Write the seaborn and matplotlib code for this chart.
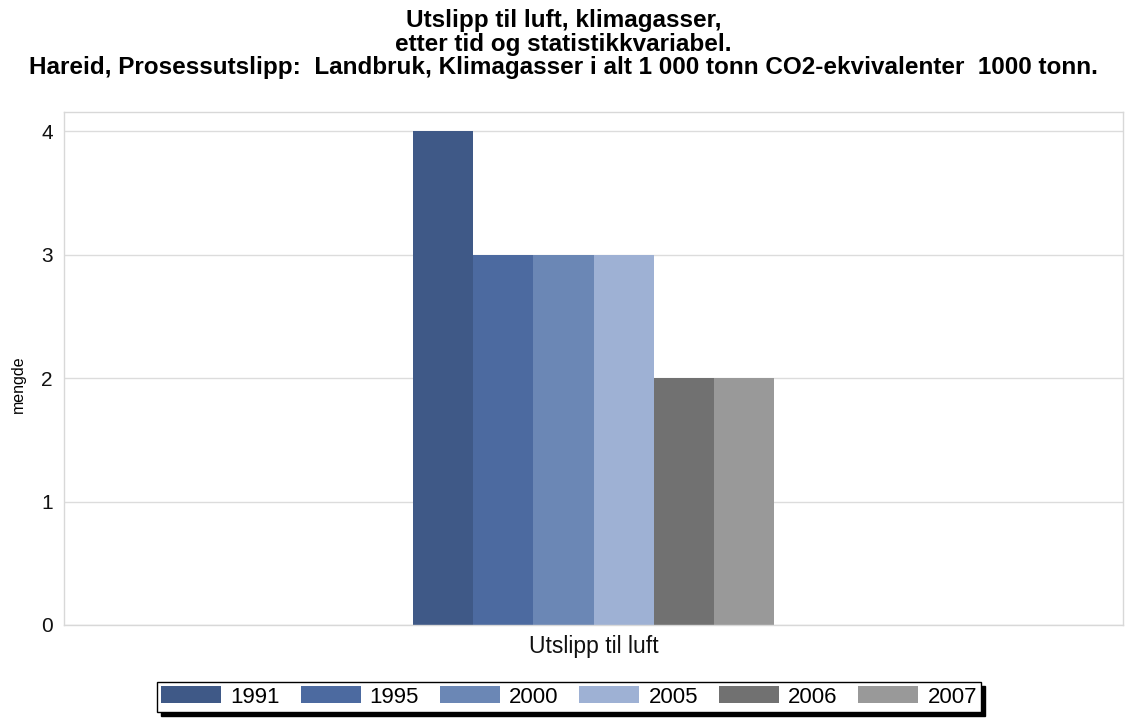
import pandas as pd
import seaborn as sns
import matplotlib.pyplot as plt

# data
kategori = ["Utslipp til luft"]
aar = ["1991", "1995", "2000", "2005", "2006", "2007"]
mengde = [4, 3, 3, 3, 2, 2]
farger = ["#3f5987", "#4c6aa0", "#6b87b5", "#9eb1d4", "#717171", "#999999"]

tittel = ("Utslipp til luft, klimagasser,\n"
          "etter tid og statistikkvariabel.\n"
          "Hareid, Prosessutslipp:  Landbruk, Klimagasser i alt 1 000 tonn "
          "CO2-ekvivalenter  1000 tonn.")

df = pd.DataFrame({
    "kategori": kategori * len(aar),
    "år": aar,
    "mengde": mengde,
})

sns.set_style("whitegrid")
plt.rcParams["font.family"] = ["Liberation Sans", "DejaVu Sans"]
plt.rcParams["text.color"] = "black"

W, H = 1127, 718
fig = plt.figure(figsize=(W / 100, H / 100), dpi=100)
ax = fig.add_axes([64 / W, 1 - 625 / H, (1123 - 64) / W, (625 - 112) / H])

sns.barplot(data=df, x="kategori", y="mengde", hue="år", hue_order=aar,
            palette=farger, width=0.34, saturation=1, linewidth=0, ax=ax)

ax.set_xlim(-0.5, 0.5)
ax.set_ylim(0, 4.154)
ax.set_yticks([0, 1, 2, 3, 4])
ax.set_xlabel("")
ax.set_ylabel("mengde", fontsize=11.5, color="black")
ax.yaxis.set_label_coords(-0.036, 0.47)
ax.tick_params(axis="both", length=0, colors="#111111")
ax.tick_params(axis="y", labelsize=15, pad=8)
ax.tick_params(axis="x", labelsize=16.5, pad=7)
ax.grid(axis="y", color="#dcdcdc", linewidth=1)
ax.grid(axis="x", visible=False)
for sp in ax.spines.values():
    sp.set_color("#d8d8d8")
    sp.set_linewidth(1)

handles, labels = ax.get_legend_handles_labels()
ax.legend_.remove()
leg = fig.legend(handles, labels, ncol=6, loc="center",
                 bbox_to_anchor=(569 / W, 1 - 697 / H),
                 fontsize=16, frameon=True, fancybox=False,
                 edgecolor="black", framealpha=1,
                 shadow={"ox": 3, "oy": -3, "color": "black", "alpha": 1},
                 handlelength=2.7, handleheight=0.8, handletextpad=0.4,
                 columnspacing=0.95, borderpad=0.2, borderaxespad=0)
leg.get_frame().set_linewidth(1)

fig.text(0.5, 1 - 44 / H, tittel, ha="center", va="center",
         fontsize=17.5, fontweight="bold", linespacing=1.02)

fig.savefig("out.png", dpi=100)
